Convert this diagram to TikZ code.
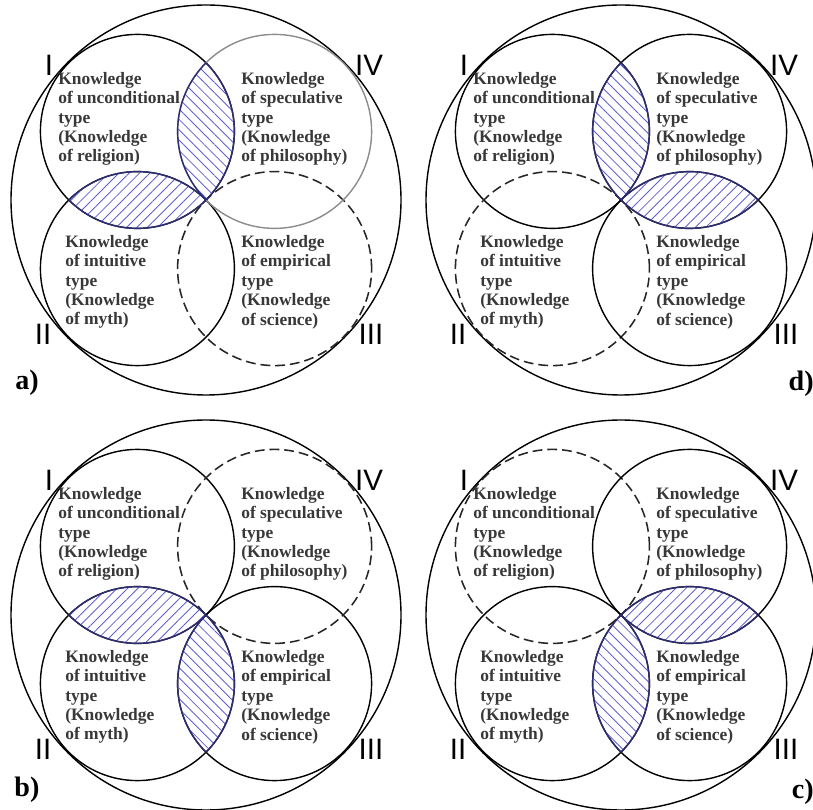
\documentclass[tikz,border=0pt]{standalone}
\usepackage{fontspec}
\setmainfont{Liberation Serif}
\setsansfont{Liberation Sans}
\usetikzlibrary{patterns.meta}
\definecolor{hatchblue}{RGB}{95,95,210}
\definecolor{lensnavy}{RGB}{45,45,115}
\tikzset{
  ring/.style     = {draw=black, line width=1pt},
  ghost/.style    = {draw=black!85, line width=1.1pt, dash pattern=on 7pt off 3.5pt},
  faint/.style    = {draw=black!45, line width=1pt},
  hatchne/.style  = {pattern={Lines[angle=45, distance=5.2pt, line width=0.6pt]},
                     pattern color=hatchblue},
  hatchnw/.style  = {pattern={Lines[angle=-45, distance=5.2pt, line width=0.6pt]},
                     pattern color=hatchblue},
  lensedge/.style = {draw=lensnavy, line width=1pt},
  kbox/.style     = {align=left, anchor=west, inner sep=0pt, text=black!78,
                     font=\bfseries\fontsize{12.4}{13.8}\selectfont},
  numeral/.style  = {font=\sffamily\fontsize{21}{21}\selectfont, inner sep=0pt},
  tag/.style      = {font=\bfseries\fontsize{20}{20}\selectfont, inner sep=0pt}
}
% hatched overlap of two inner circles, with its rim
\newcommand{\lens}[3]{%
  \begin{scope}\clip (#1) circle (97); \fill[#3] (#2) circle (97); \end{scope}
  \begin{scope}\clip (#1) circle (97); \draw[lensedge] (#2) circle (97); \end{scope}
  \begin{scope}\clip (#2) circle (97); \draw[lensedge] (#1) circle (97); \end{scope}}

\begin{document}
\begin{tikzpicture}[x=0.025cm, y=0.025cm]
\useasboundingbox (0,0) rectangle (813,809);
% the four panels
\foreach \p/\cx/\cy/\sI/\sII/\sIII/\sIV/\tx/\ty/\ta in {
    a/206/609/ring/ring/ghost/faint/27/426/center,
    d/621/609/ring/ghost/ring/ring/814/425/east,
    b/206/194/ring/ring/ring/ghost/27/19/center,
    c/621/194/ghost/ring/ring/ring/814/17/east} {
  \begin{scope}[shift={(\cx,\cy)}]
    \coordinate (\p) at (0,0);
    \coordinate (\p-I)   at (-68.6, 68.6);
    \coordinate (\p-IV)  at (68.6, 68.6);
    \coordinate (\p-II)  at (-68.6, -68.6);
    \coordinate (\p-III) at (68.6, -68.6);
    \draw[ring] (\p) circle (195);
    \draw[\sI]   (\p-I) circle (97);
    \draw[\sII]  (\p-II) circle (97);
    \draw[\sIII] (\p-III) circle (97);
    \draw[\sIV]  (\p-IV) circle (97);
    % texts
    \node[kbox] (rel-\p) at (-148, 81)
      {Knowledge\\of unconditional\\type\\(Knowledge\\of religion)};
    \node[kbox] (phil-\p) at (35, 81)
      {Knowledge\\of speculative\\type\\(Knowledge\\of philosophy)};
    \node[kbox] (myth-\p) at (-141, -82)
      {Knowledge\\of intuitive\\type\\(Knowledge\\of myth)};
    \node[kbox] (sci-\p) at (35, -82)
      {Knowledge\\of empirical\\type\\(Knowledge\\of science)};
    % numerals
    \node[numeral] (one-\p)   at (-157, 135) {I};
    \node[numeral] (four-\p)  at (163, 135) {IV};
    \node[numeral] (two-\p)   at (-163, -134) {II};
    \node[numeral] (three-\p) at (165, -134) {III};
    \node[tag, anchor=\ta] (tag-\p) at (\tx-\cx, \ty-\cy) {\p)};
  \end{scope}}
% hatched overlaps
\lens{a-I}{a-IV}{hatchnw}
\lens{a-I}{a-II}{hatchne}
\lens{d-I}{d-IV}{hatchnw}
\lens{d-IV}{d-III}{hatchne}
\lens{b-I}{b-II}{hatchne}
\lens{b-II}{b-III}{hatchnw}
\lens{c-IV}{c-III}{hatchne}
\lens{c-II}{c-III}{hatchnw}
\end{tikzpicture}
\end{document}
